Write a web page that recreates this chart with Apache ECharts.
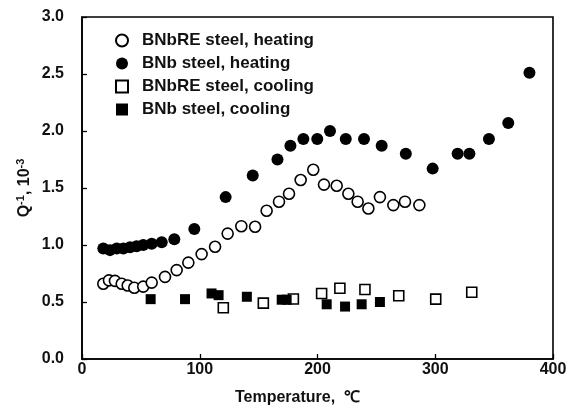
<!DOCTYPE html>
<html>
<head>
<meta charset="utf-8">
<script src="https://cdn.jsdelivr.net/npm/echarts@6/dist/echarts.min.js"></script>
<style>
html,body{margin:0;padding:0;background:#fff;}
#c{width:569px;height:405px;}
</style>
</head>
<body>
<div id="c"></div>
<script>
// BNbRE steel, heating (open circles)
var bnbreHeatT = [18.1, 22.9, 28, 33.7, 38.8, 44.4, 52, 59.2, 70.5, 80.4, 90.3, 101.6, 113, 123.7, 135.3, 147, 156.8, 167.3, 175.8, 185.7, 196.4, 205.5, 216.3, 226.2, 234.1, 243.2, 253, 264.4, 274.3, 286.5];
var bnbreHeatQ = [0.66, 0.69, 0.685, 0.66, 0.645, 0.625, 0.635, 0.67, 0.72, 0.78, 0.845, 0.92, 0.985, 1.10, 1.165, 1.16, 1.30, 1.38, 1.45, 1.57, 1.66, 1.53, 1.52, 1.45, 1.38, 1.32, 1.42, 1.35, 1.38, 1.35];
// BNb steel, heating (filled circles)
var bnbHeatT = [18.1, 23.8, 29.5, 35.1, 40.8, 46.4, 52, 59.2, 67.7, 78.4, 95.4, 122, 145, 166, 177, 188, 199.8, 210.6, 224, 239.5, 254.5, 275, 297.8, 319, 329, 345.6, 362, 380];
var bnbHeatQ = [0.97, 0.955, 0.97, 0.97, 0.98, 0.99, 1.0, 1.01, 1.025, 1.05, 1.14, 1.42, 1.61, 1.75, 1.87, 1.93, 1.93, 2.0, 1.93, 1.93, 1.87, 1.80, 1.67, 1.80, 1.80, 1.93, 2.07, 2.51];
// BNbRE steel, cooling (open squares)
var bnbreCoolT = [120, 154, 179.5, 203.5, 219, 240.3, 269, 300.4, 331];
var bnbreCoolQ = [0.45, 0.49, 0.526, 0.575, 0.62, 0.61, 0.555, 0.525, 0.585];
// BNb steel, cooling (filled squares)
var bnbCoolT = [58.3, 87.5, 110, 116, 140, 169.6, 173.8, 207.8, 223.4, 237.5, 253];
var bnbCoolQ = [0.525, 0.525, 0.575, 0.56, 0.546, 0.52, 0.52, 0.48, 0.46, 0.48, 0.50];

var seriesNames = ['BNbRE steel, heating', 'BNb steel, heating', 'BNbRE steel, cooling', 'BNb steel, cooling'];
var xTicks = [0, 100, 200, 300, 400];
var yTicks = [0.0, 0.5, 1.0, 1.5, 2.0, 2.5, 3.0];

function pairs(xs, ys) { return xs.map(function (x, i) { return [x, ys[i]]; }); }

var FONT = 'Liberation Sans, Arial, Helvetica, sans-serif';
var chart = echarts.init(document.getElementById('c'), null, { renderer: 'canvas' });
var option = {
  animation: false,
  backgroundColor: '#fff',
  grid: { left: 82, right: 16, top: 17, bottom: 46, containLabel: false, outerBoundsMode: 'none',
    show: true, borderColor: '#000', borderWidth: 1.6, backgroundColor: 'transparent' },
  legend: {
    orient: 'vertical',
    left: 115,
    top: 32,
    padding: 0,
    itemWidth: 12,
    itemHeight: 12,
    itemGap: 6,
    data: seriesNames,
    textStyle: { fontFamily: FONT, fontSize: 17, fontWeight: 'bold', color: '#111', lineHeight: 17, padding: [0, 0, 0, 9] }
  },
  xAxis: {
    type: 'value', min: xTicks[0], max: xTicks[xTicks.length - 1], interval: 100,
    name: 'Temperature,  ℃', nameLocation: 'middle', nameGap: 31,
    nameTextStyle: { fontFamily: FONT, fontSize: 16, fontWeight: 'bold', color: '#111', padding: [0, 40, 0, 0] },
    axisLine: { show: true, onZero: false, lineStyle: { color: '#000', width: 1.6 } },
    axisTick: { show: true, inside: true, length: 5, lineStyle: { color: '#000', width: 1.3 } },
    axisLabel: { fontFamily: FONT, fontSize: 16, fontWeight: 'bold', color: '#111', margin: 3 },
    splitLine: { show: false }
  },
  yAxis: {
    type: 'value', min: yTicks[0], max: yTicks[yTicks.length - 1], interval: 0.5,
    name: 'Q{s|-1}, 10{s|-3}', nameLocation: 'middle', nameGap: 47, nameRotate: 90, nameMoveOverlap: false,
    nameTextStyle: { fontFamily: FONT, fontSize: 16, fontWeight: 'bold', color: '#111', lineHeight: 20,
      rich: { s: { fontFamily: FONT, fontSize: 11, fontWeight: 'bold', color: '#111', verticalAlign: 'top', lineHeight: 12 } } },
    axisLine: { show: true, onZero: false, lineStyle: { color: '#000', width: 1.6 } },
    axisTick: { show: true, inside: true, length: 5, lineStyle: { color: '#000', width: 1.3 } },
    axisLabel: { fontFamily: FONT, fontSize: 16, fontWeight: 'bold', color: '#111', margin: 18,
      formatter: function (v) { return v.toFixed(1); } },
    splitLine: { show: false }
  },
  series: [{
    name: seriesNames[0], type: 'scatter', symbol: 'circle', symbolSize: 11,
    itemStyle: { color: '#fff', borderColor: '#000', borderWidth: 1.6, opacity: 1 },
    data: pairs(bnbreHeatT, bnbreHeatQ), z: 3
  }, {
    name: seriesNames[1], type: 'scatter', symbol: 'circle', symbolSize: 12,
    itemStyle: { color: '#000', borderColor: '#000', borderWidth: 0, opacity: 1 },
    data: pairs(bnbHeatT, bnbHeatQ), z: 4
  }, {
    name: seriesNames[2], type: 'scatter', symbol: 'rect', symbolSize: 10,
    itemStyle: { color: '#fff', borderColor: '#000', borderWidth: 1.6, opacity: 1 },
    data: pairs(bnbreCoolT, bnbreCoolQ), z: 3
  }, {
    name: seriesNames[3], type: 'scatter', symbol: 'rect', symbolSize: 10,
    itemStyle: { color: '#000', borderColor: '#000', borderWidth: 0, opacity: 1 },
    data: pairs(bnbCoolT, bnbCoolQ), z: 4
  }]
};
chart.setOption(option);
</script>
</body>
</html>
